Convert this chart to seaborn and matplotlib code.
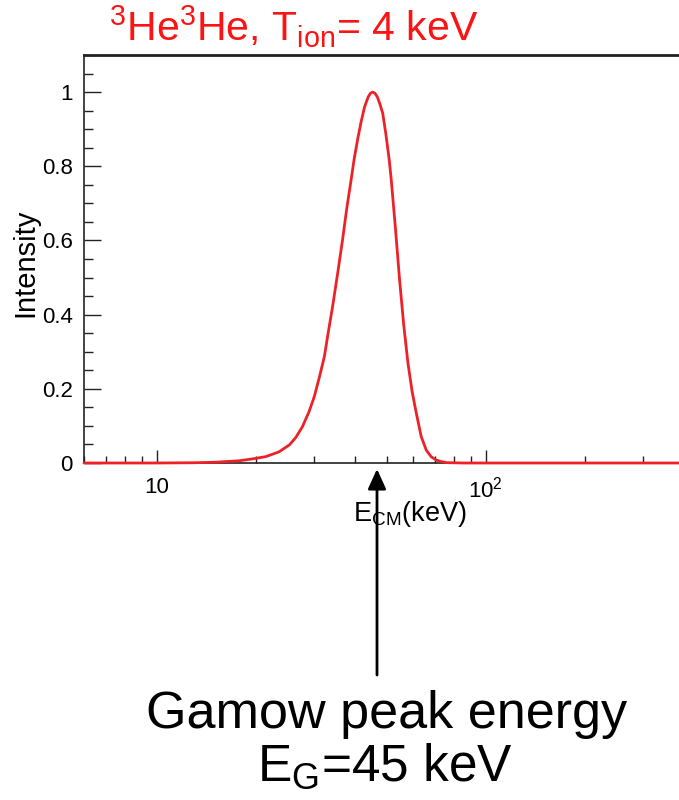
import numpy as np
import pandas as pd
import matplotlib
matplotlib.use("Agg")
import matplotlib.pyplot as plt
import seaborn as sns
from matplotlib.ticker import FixedLocator, FixedFormatter, MultipleLocator

# ---- data ----
energy_keV = [6, 10, 13, 15, 17.8, 19.5, 21.4, 23.5, 25.3, 26.5, 27.7, 29.0, 30.1,
              31.2, 32.3, 33.2, 34.2, 35.4, 36.7, 37.8, 38.9, 39.8, 40.8, 41.8,
              42.8, 43.9, 44.6, 45.3, 46.0, 46.8, 47.6, 48.6, 49.7, 50.9, 51.6,
              53.1, 54.7, 56.3, 58.0, 59.7, 61.5, 63.6, 65.9, 68.2, 70.7, 73,
              76, 85, 100, 200, 387]
intensity = [0, 0, 0.0007, 0.002, 0.006, 0.011, 0.017, 0.03, 0.049, 0.07, 0.098,
             0.138, 0.179, 0.232, 0.287, 0.353, 0.421, 0.508, 0.603, 0.688, 0.760,
             0.820, 0.874, 0.921, 0.960, 0.987, 0.997, 1.0, 0.997, 0.987, 0.969,
             0.943, 0.886, 0.815, 0.763, 0.635, 0.493, 0.372, 0.269, 0.193, 0.134,
             0.072, 0.035, 0.017, 0.008, 0.004, 0.001, 0, 0, 0, 0]
x_major = [10, 100]
x_major_labels = ["10", r"$10^{2}$"]
x_minor = [6, 7, 8, 9, 20, 30, 40, 50, 60, 70, 80, 90, 200, 300]
y_major = [0, 0.2, 0.4, 0.6, 0.8, 1.0]
y_major_labels = ["0", "0.2", "0.4", "0.6", "0.8", "1"]

sns.set_theme(style="white")
plt.rcParams["font.family"] = ["Liberation Sans", "DejaVu Sans"]
plt.rcParams["mathtext.fontset"] = "custom"
plt.rcParams["mathtext.rm"] = "Liberation Sans"
plt.rcParams["mathtext.it"] = "Liberation Sans:italic"
plt.rcParams["mathtext.bf"] = "Liberation Sans:bold"
plt.rcParams["mathtext.default"] = "rm"

fig = plt.figure(figsize=(6.79, 8.0), dpi=100)
W, H = 679, 800
ax_left, ax_right, ax_top, ax_bottom = 84, 679, 55, 463
ax = fig.add_axes([ax_left / W, 1 - ax_bottom / H, (ax_right - ax_left) / W,
                   (ax_bottom - ax_top) / H])

df = pd.DataFrame({"E": energy_keV, "I": intensity})
sns.lineplot(data=df, x="E", y="I", ax=ax, color="#ee2128", linewidth=2.0,
             sort=True, zorder=3, clip_on=False)
for ln in ax.get_lines():
    ln.set_solid_joinstyle("round")

ax.set_xscale("log")
ax.set_xlim(6, 387)
ax.set_ylim(0, 1.1)

ax.xaxis.set_major_locator(FixedLocator(x_major))
ax.xaxis.set_major_formatter(FixedFormatter(x_major_labels))
ax.xaxis.set_minor_locator(FixedLocator(x_minor))
ax.xaxis.set_minor_formatter(FixedFormatter([""] * len(x_minor)))
ax.yaxis.set_major_locator(FixedLocator(y_major))
ax.yaxis.set_major_formatter(FixedFormatter(y_major_labels))
ax.yaxis.set_minor_locator(MultipleLocator(0.05))

ax.tick_params(axis="both", which="both", direction="in", colors="#222222",
               labelcolor="black", width=1.0)
ax.tick_params(axis="y", which="major", length=12.5, pad=8, labelsize=16)
ax.tick_params(axis="y", which="minor", length=6.3)
ax.tick_params(axis="x", which="major", length=9.5, pad=10, labelsize=16)
ax.tick_params(axis="x", which="minor", length=5)
ax.tick_params(left=True, bottom=True, which="both")

for s in ["left", "bottom"]:
    ax.spines[s].set_color("#222222")
    ax.spines[s].set_linewidth(1.2)
ax.spines["top"].set_color("#222222")
ax.spines["top"].set_linewidth(2.0)
ax.spines["right"].set_visible(False)

ax.set_xlabel("")
ax.set_ylabel("")

# axis titles
fig.text(25 / W, 1 - 263 / H, "Intensity", rotation=90, ha="center", va="center",
         fontsize=21, color="black")
fig.text(410 / W, 1 - 521 / H, r"E$_{\mathrm{CM}}$(keV)", ha="center",
         va="baseline", fontsize=19.5, color="black")

# title
fig.text(294 / W, 1 - 41 / H, r"$^{3}$He$^{3}$He, T$_{\mathrm{ion}}$= 4 keV",
         ha="center", va="baseline", fontsize=29.5, color="#fa1414")

# arrow to Gamow peak
fig.patches.append(matplotlib.patches.FancyArrowPatch(
    (377 / W, 1 - 675 / H), (377 / W, 1 - 469 / H), transform=fig.transFigure,
    arrowstyle="-|>,head_length=1.1,head_width=0.5", mutation_scale=11,
    color="black", linewidth=2.0, shrinkA=0, shrinkB=0))

fig.text(387 / W, 1 - 728 / H, "Gamow peak energy", ha="center", va="baseline",
         fontsize=37.5, color="black")
fig.text(385 / W, 1 - 781 / H, r"E$_{\mathrm{G}}$=45 keV", ha="center",
         va="baseline", fontsize=37, color="black")

fig.savefig("out.png", dpi=100)
